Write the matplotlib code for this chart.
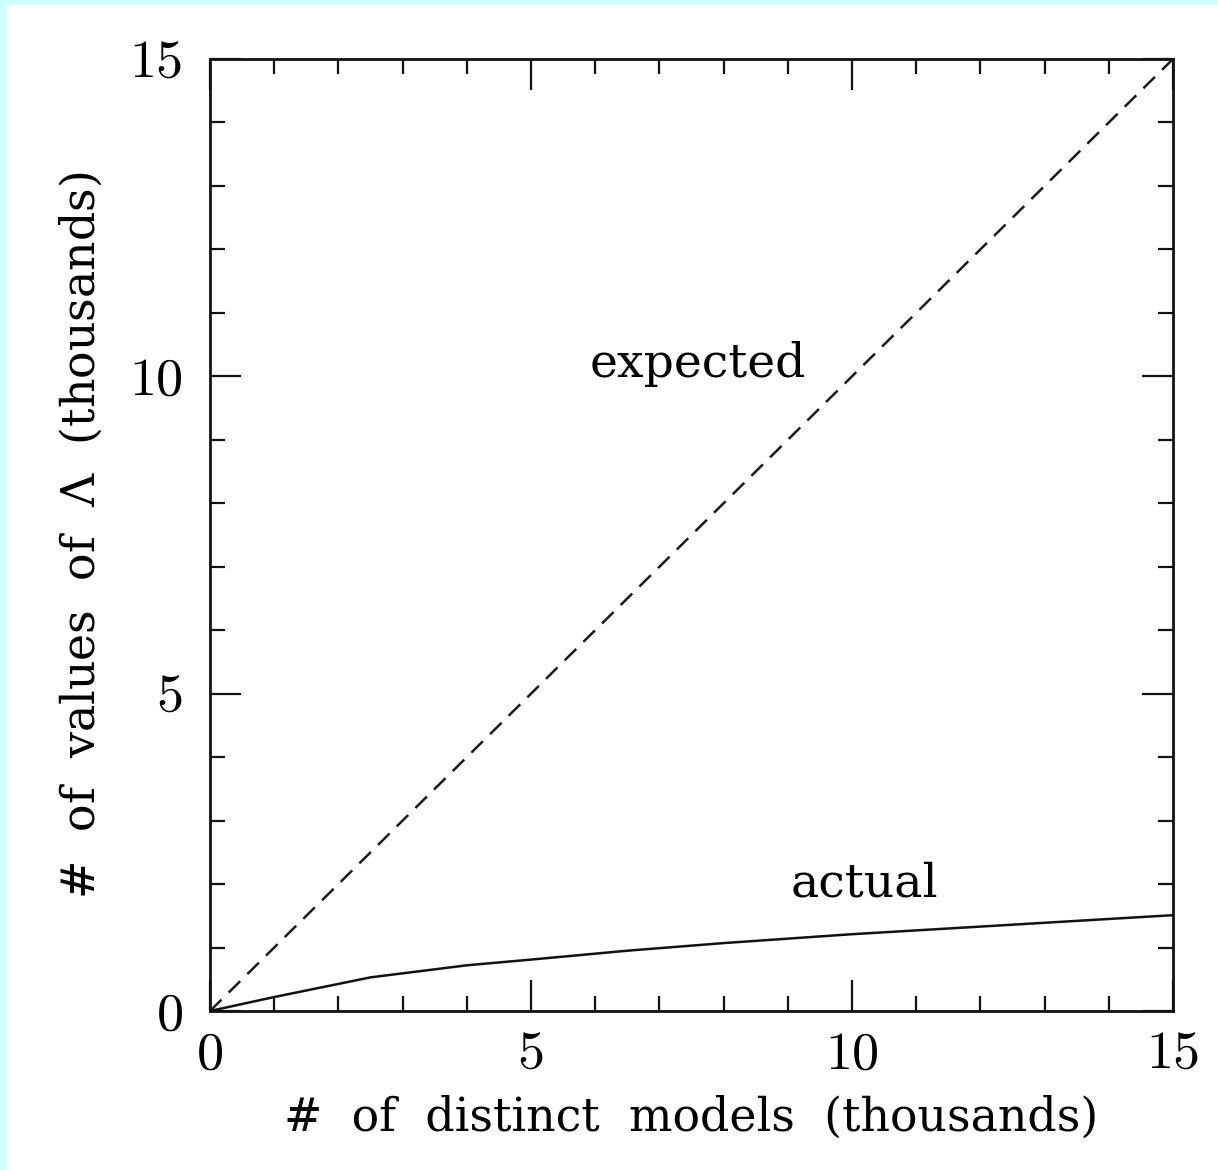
import matplotlib
matplotlib.use('Agg')
import matplotlib.pyplot as plt
from matplotlib.patches import Rectangle
from matplotlib.ticker import MultipleLocator

plt.rcParams['font.family'] = 'DejaVu Serif'
plt.rcParams['mathtext.fontset'] = 'dejavuserif'

# models vs. distinct values of Lambda, both in thousands
expected_x = [0, 15]
expected_y = [0, 15]
actual_x = [0, 1.0, 2.5, 4.0, 5.0, 6.5, 8.0, 10.0, 12.0, 15.0]
actual_y = [0, 0.22, 0.53, 0.72, 0.81, 0.95, 1.07, 1.21, 1.33, 1.51]
major_ticks = [0, 5, 10, 15]

fig = plt.figure(figsize=(12.18, 11.70), dpi=100, facecolor='#ccffff')
# white page with a thin cyan strip on the left and top
fig.patches.append(Rectangle((7 / 1218, 0), 1, 1 - 5 / 1170,
                             transform=fig.transFigure, facecolor='white',
                             edgecolor='none', zorder=-1))

ax = fig.add_axes([210 / 1218, 159 / 1170, 963 / 1218, 952 / 1170])
ax.plot(expected_x, expected_y, color='#1a1a1a', lw=1.8, dashes=(6.5, 4))
ax.plot(actual_x, actual_y, color='#111111', lw=1.8)

ax.text(7.6, 10.2, 'expected', fontsize=34, ha='center', va='center')
ax.text(10.2, 2.0, 'actual', fontsize=34, ha='center', va='center')

ax.set_xlim(0, 15)
ax.set_ylim(0, 15)
ax.set_xticks(major_ticks)
ax.set_yticks(major_ticks)
ax.set_xticklabels([str(t) for t in major_ticks], family='cmr10')
ax.set_yticklabels([str(t) for t in major_ticks], family='cmr10')
ax.xaxis.set_minor_locator(MultipleLocator(1))
ax.yaxis.set_minor_locator(MultipleLocator(1))
ax.tick_params(which='both', direction='in', top=True, right=True,
               width=1.6, color='#111111', labelsize=39)
ax.tick_params(axis='x', pad=15)
ax.tick_params(axis='y', pad=19)
ax.tick_params(which='major', length=22)
ax.tick_params(which='minor', length=11)
for sp in ax.spines.values():
    sp.set_linewidth(2.0)
    sp.set_color('#111111')

# wide word gaps, as in the plotting package's lettering
ax.set_xlabel('#  of  distinct  models  (thousands)', fontsize=33, labelpad=12)
ax.set_ylabel(r'#  of  values  of  $\Lambda$  (thousands)', fontsize=33,
              labelpad=18)

fig.savefig('out.png', dpi=100, facecolor=fig.get_facecolor())
